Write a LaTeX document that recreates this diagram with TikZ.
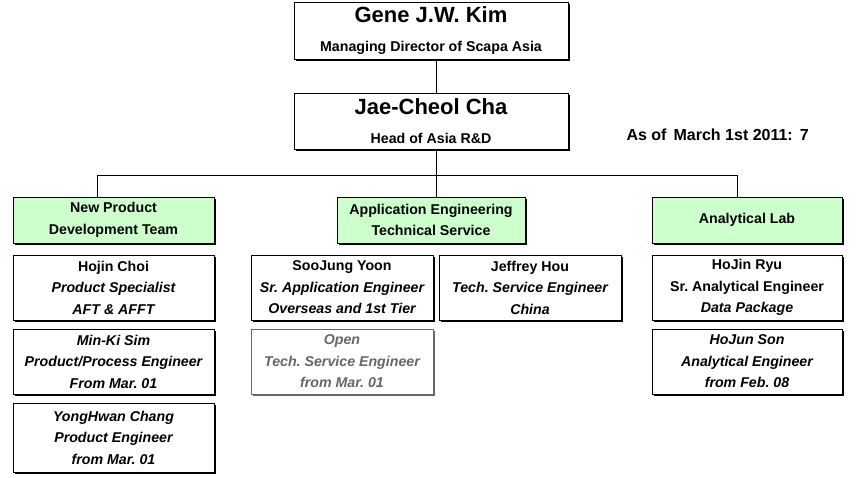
\documentclass[tikz,border=0pt]{standalone}
\usepackage{fontspec}
\setmainfont{Liberation Sans}
\usepackage{xcolor}
\usetikzlibrary{positioning,shadows,calc}
\definecolor{teamgreen}{HTML}{CCFFCC}
\definecolor{opengray}{HTML}{666666}
\frenchspacing

\tikzset{
  box/.style={draw=black,line width=1pt,fill=white,align=center,inner sep=0pt,
    font=\bfseries\fontsize{14.2}{21.5}\selectfont,
    drop shadow={shadow xshift=1.8pt,shadow yshift=-1.8pt,fill=black,opacity=1}},
  headbox/.style={box,minimum width=274pt,
    execute at begin node={\rule{0pt}{25pt}}},
  teambox/.style={box,fill=teamgreen,minimum height=46pt},
  staffbox/.style={box,minimum height=65pt},
  openbox/.style={staffbox,draw=opengray,text=opengray,
    drop shadow={shadow xshift=1.8pt,shadow yshift=-1.8pt,fill=opengray,opacity=1}},
  link/.style={draw=black,line width=1pt}
}
\newcommand{\bigname}[1]{{\fontsize{22}{25}\selectfont #1}}

\begin{document}
\begin{tikzpicture}[x=1pt,y=-1pt]
    \useasboundingbox (0,0) rectangle (856,477);
    % management
    \node[headbox,minimum height=57pt] (kim) at (431,30.5)
      {\bigname{Gene J.W. Kim}\\[7pt]Managing Director of Scapa Asia};
    \node[headbox,minimum height=56pt] (cha) at (431,121)
      {\bigname{Jae-Cheol Cha}\\[7pt]Head of Asia R\&D};
    \node[font=\bfseries\fontsize{16}{18}\selectfont,anchor=west] (asof) at (623,135)
      {As of\, March 1st 2011:\, 7};
    % teams
    \node[teambox,minimum width=201pt] (npd) at (113.5,220) {New Product\\Development Team};
    \node[teambox,minimum width=188pt] (aets) at (431,220) {Application Engineering\\Technical Service};
    \node[teambox,minimum width=190pt] (alab) at (747,220) {Analytical Lab};
    % staff
    \node[staffbox,minimum width=201pt] (choi) at (113.5,287.5)
      {Hojin Choi\\\itshape Product Specialist\\\itshape AFT \& AFFT};
    \node[staffbox,minimum width=201pt] (sim) at (113.5,361.5)
      {\itshape Min-Ki Sim\\\itshape Product/Process Engineer\\\itshape From Mar. 01};
    \node[staffbox,minimum width=201pt,minimum height=69pt] (chang) at (113.5,437.5)
      {\itshape YongHwan Chang\\\itshape Product Engineer\\\itshape from Mar. 01};
    \node[staffbox,minimum width=182pt] (yoon) at (342,287.5)
      {SooJung Yoon\\\itshape Sr. Application Engineer\\\itshape Overseas and 1st Tier};
    \node[staffbox,minimum width=182pt] (hou) at (530,287.5)
      {Jeffrey Hou\\\itshape Tech. Service Engineer\\\itshape China};
    \node[openbox,minimum width=182pt] (open) at (342,361.5)
      {\itshape Open\\\itshape Tech. Service Engineer\\\itshape from Mar. 01};
    \node[staffbox,minimum width=190pt] (ryu) at (747,287.5)
      {HoJin Ryu\\Sr. Analytical Engineer\\\itshape Data Package};
    \node[staffbox,minimum width=190pt] (son) at (747,361.5)
      {\itshape HoJun Son\\\itshape Analytical Engineer\\\itshape from Feb. 08};
    % connectors
    \coordinate (bus) at (436,175.5);
    \draw[link] (kim.south -| bus) -- (cha.north -| bus);
    \draw[link] (cha.south -| bus) -- (aets.north -| bus);
    \draw[link] ([xshift=-16.5pt]npd.north) |- (bus) -| ([xshift=-10pt]alab.north);
\end{tikzpicture}
\end{document}
